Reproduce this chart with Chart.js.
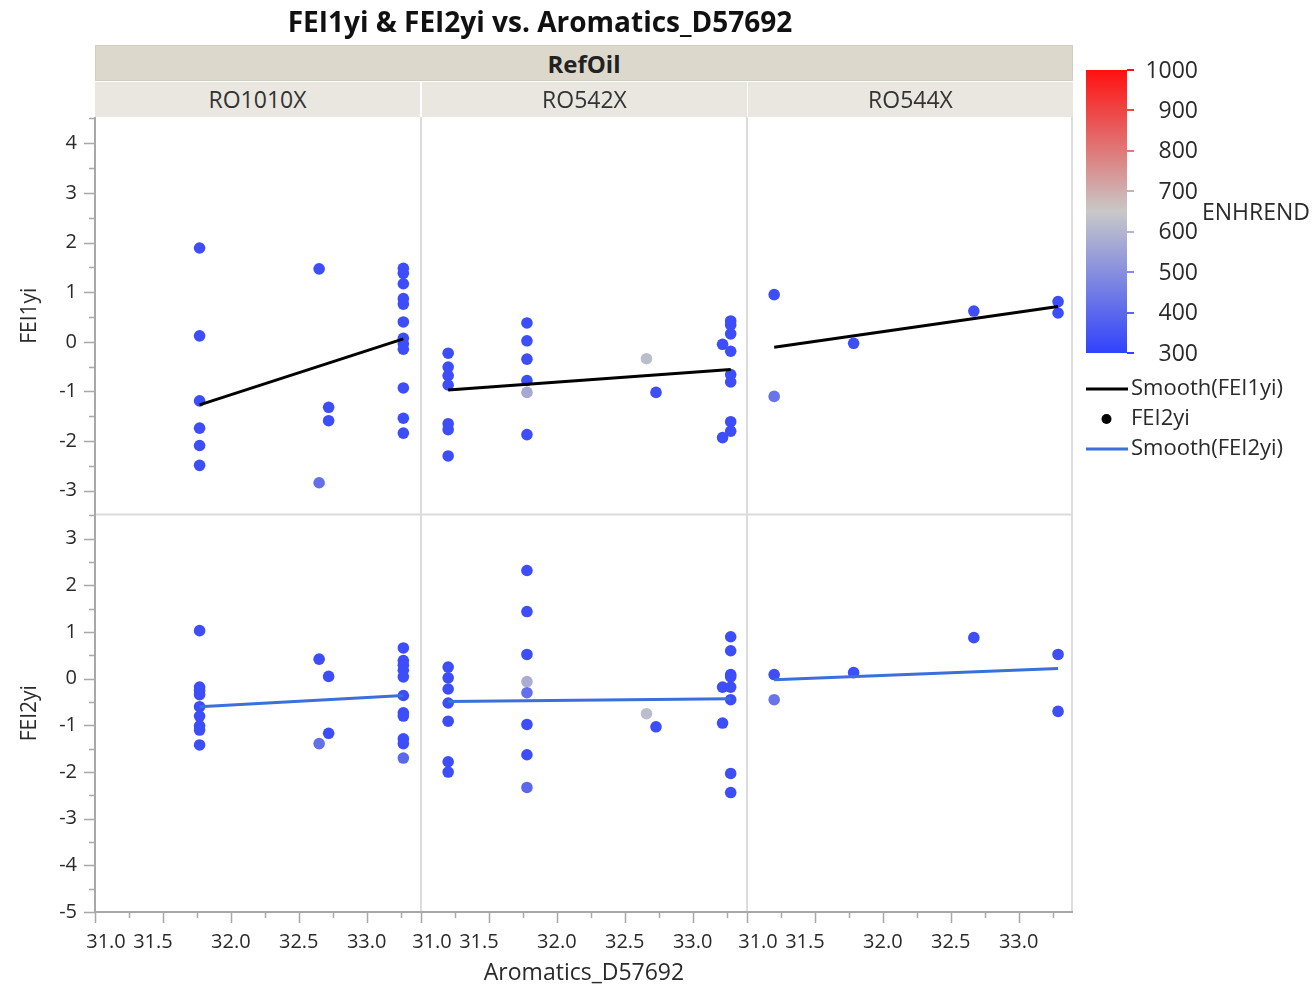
<!DOCTYPE html>
<html>
<head>
<meta charset="utf-8">
<title>FEI1yi & FEI2yi vs. Aromatics_D57692</title>
<script src="https://cdn.jsdelivr.net/npm/chart.js@4.4.1/dist/chart.umd.min.js"></script>
<style>
  body { margin: 0; background: #fff; font-family: "Open Sans", sans-serif; }
  #wrap { position: relative; width: 1316px; height: 988px; }
  #c { position: absolute; left: 0; top: 0; }
  .lbl { position: absolute; white-space: nowrap; color: #222; text-align: center; box-sizing: border-box; }
  #title { left: 0; width: 1080px; top: 2px; font-size: 28px; font-weight: bold; color: #111; }
  #refoil { left: 95px; top: 45px; width: 978px; height: 36px; line-height: 35px; background: #dcd9cc;
            font-size: 24px; font-weight: bold; border: 1px solid #d0cdc2; }
  .strip { top: 82px; width: 325px; height: 35px; line-height: 34px; background: #e9e7e0; font-size: 23px; color: #333; }
</style>
</head>
<body>
<div id="wrap">
  <canvas id="c" width="1316" height="988"></canvas>
  <div class="lbl" id="title">FEI1yi &amp; FEI2yi vs. Aromatics_D57692</div>
  <div class="lbl" id="refoil">RefOil</div>
  <div id="strips"></div>
</div>
<script>
// facets (RefOil) and the two responses
const refOils = ['RO1010X', 'RO542X', 'RO544X'];
const responses = ['FEI1yi', 'FEI2yi'];

// RO1010X
const aro1_RO1010X = [31.77, 31.77, 31.77, 31.77, 31.77, 31.77, 32.65, 32.65, 32.72, 32.72,
  33.27, 33.27, 33.27, 33.27, 33.27, 33.27, 33.27, 33.27, 33.27, 33.27, 33.27, 33.27];
const fei1_RO1010X = [1.89, 0.12, -1.19, -1.74, -2.09, -2.49, 1.47, -2.84, -1.32, -1.59,
  1.48, 1.38, 1.17, 0.87, 0.76, 0.40, 0.07, -0.04, -0.15, -0.93, -1.54, -1.84];
const enh1_RO1010X = [330, 330, 330, 330, 330, 330, 330, 420, 330, 330,
  330, 330, 330, 330, 330, 330, 330, 330, 330, 330, 330, 330];
const aro2_RO1010X = [31.77, 31.77, 31.77, 31.77, 31.77, 31.77, 31.77, 31.77, 31.77, 32.65, 32.65, 32.72, 32.72,
  33.27, 33.27, 33.27, 33.27, 33.27, 33.27, 33.27, 33.27, 33.27, 33.27, 33.27];
const fei2_RO1010X = [1.03, -0.18, -0.25, -0.34, -0.60, -0.80, -1.01, -1.10, -1.42, 0.42, -1.39, 0.05, -1.17,
  0.66, 0.39, 0.29, 0.18, 0.04, -0.36, -0.73, -0.80, -1.29, -1.39, -1.70];
const enh2_RO1010X = [330, 330, 330, 330, 330, 330, 330, 330, 330, 330, 420, 330, 330,
  330, 330, 330, 330, 330, 330, 330, 330, 330, 330, 400];

// RO542X
const aro1_RO542X = [31.20, 31.20, 31.20, 31.20, 31.20, 31.20, 31.20, 31.78, 31.78, 31.78, 31.78, 31.78, 31.78,
  32.66, 32.73, 33.22, 33.22, 33.28, 33.28, 33.28, 33.28, 33.28, 33.28, 33.28, 33.28];
const fei1_RO542X = [-0.23, -0.51, -0.68, -0.87, -1.65, -1.77, -2.30, 0.38, 0.02, -0.35, -0.78, -1.02, -1.87,
  -0.34, -1.02, -0.05, -1.93, 0.42, 0.34, 0.16, -0.19, -0.66, -0.81, -1.61, -1.80];
const enh1_RO542X = [330, 330, 330, 330, 330, 330, 330, 330, 330, 330, 330, 570, 330,
  620, 330, 330, 330, 330, 330, 330, 330, 330, 330, 330, 330];
const aro2_RO542X = [31.20, 31.20, 31.20, 31.20, 31.20, 31.20, 31.20, 31.78, 31.78, 31.78, 31.78, 31.78, 31.78, 31.78, 31.78,
  32.66, 32.73, 33.22, 33.22, 33.28, 33.28, 33.28, 33.28, 33.28, 33.28, 33.28, 33.28];
const fei2_RO542X = [0.25, 0.02, -0.22, -0.52, -0.91, -1.78, -2.00, 2.32, 1.44, 0.52, -0.06, -0.30, -0.98, -1.63, -2.33,
  -0.75, -1.03, -0.18, -0.95, 0.90, 0.60, 0.09, 0.04, -0.18, -0.45, -2.03, -2.44];
const enh2_RO542X = [330, 330, 330, 330, 330, 330, 330, 330, 330, 330, 580, 420, 330, 330, 400,
  620, 330, 330, 330, 330, 330, 330, 330, 330, 330, 330, 330];

// RO544X
const aro1_RO544X = [31.20, 31.20, 31.785, 32.67, 33.29, 33.29];
const fei1_RO544X = [0.95, -1.10, -0.03, 0.62, 0.81, 0.58];
const enh1_RO544X = [330, 430, 330, 330, 330, 330];
const aro2_RO544X = [31.20, 31.20, 31.785, 32.67, 33.29, 33.29];
const fei2_RO544X = [0.09, -0.45, 0.13, 0.88, 0.52, -0.70];
const enh2_RO544X = [330, 430, 330, 330, 330, 330];

// smoother fits, per oil
const smoothAro_RO1010X = [31.77, 33.27];
const smooth1_RO1010X = [-1.27, 0.06];
const smooth2_RO1010X = [-0.60, -0.36];
const smoothAro_RO542X = [31.20, 33.28];
const smooth1_RO542X = [-0.97, -0.56];
const smooth2_RO542X = [-0.49, -0.43];
const smoothAro_RO544X = [31.20, 33.29];
const smooth1_RO544X = [-0.11, 0.71];
const smooth2_RO544X = [-0.02, 0.22];

// axis settings
const aroRange = [31.0, 33.4];
const fei1Range = [-3.48, 4.53];
const fei2Range = [-5.0, 3.52];
const aroTickLabels = [31.0, 31.5, 32.0, 32.5, 33.0];

// ENHREND colour scale
const enhStops = [300, 650, 1000];
const enhRGB = [[48, 66, 252], [200, 200, 200], [255, 16, 16]];
const enhTicks = [300, 400, 500, 600, 700, 800, 900, 1000];

const FONT = '"Open Sans", sans-serif';
const TEXT = '#2a2a2a';

function enhColor(v) {
  let i = v <= enhStops[1] ? 0 : 1;
  let t = (v - enhStops[i]) / (enhStops[i + 1] - enhStops[i]);
  t = Math.max(0, Math.min(1, t));
  const c = enhRGB[i].map((a, k) => Math.round(a + (enhRGB[i + 1][k] - a) * t));
  return `rgb(${c[0]},${c[1]},${c[2]})`;
}

const byOil = {
  RO1010X: { aro1: aro1_RO1010X, fei1: fei1_RO1010X, enh1: enh1_RO1010X, aro2: aro2_RO1010X, fei2: fei2_RO1010X, enh2: enh2_RO1010X,
             sx: smoothAro_RO1010X, s1: smooth1_RO1010X, s2: smooth2_RO1010X },
  RO542X:  { aro1: aro1_RO542X, fei1: fei1_RO542X, enh1: enh1_RO542X, aro2: aro2_RO542X, fei2: fei2_RO542X, enh2: enh2_RO542X,
             sx: smoothAro_RO542X, s1: smooth1_RO542X, s2: smooth2_RO542X },
  RO544X:  { aro1: aro1_RO544X, fei1: fei1_RO544X, enh1: enh1_RO544X, aro2: aro2_RO544X, fei2: fei2_RO544X, enh2: enh2_RO544X,
             sx: smoothAro_RO544X, s1: smooth1_RO544X, s2: smooth2_RO544X },
};

const pts = (xs, ys) => xs.map((x, i) => ({ x: x, y: ys[i] }));

const datasets = [];
refOils.forEach(oil => {
  const d = byOil[oil];
  const xId = 'x_' + oil;
  datasets.push({ label: 'Smooth(FEI1yi)', data: pts(d.sx, d.s1), xAxisID: xId, yAxisID: 'yFEI1', showLine: true,
    borderColor: '#000', borderWidth: 3, pointRadius: 0, order: 0 });
  datasets.push({ label: 'Smooth(FEI2yi)', data: pts(d.sx, d.s2), xAxisID: xId, yAxisID: 'yFEI2', showLine: true,
    borderColor: '#3b6fdc', borderWidth: 3, pointRadius: 0, order: 0 });
  datasets.push({ label: 'FEI1yi', data: pts(d.aro1, d.fei1), xAxisID: xId, yAxisID: 'yFEI1',
    pointRadius: 5.8, pointBorderWidth: 0, pointBackgroundColor: d.enh1.map(enhColor), order: 1 });
  datasets.push({ label: 'FEI2yi', data: pts(d.aro2, d.fei2), xAxisID: xId, yAxisID: 'yFEI2',
    pointRadius: 5.8, pointBorderWidth: 0, pointBackgroundColor: d.enh2.map(enhColor), order: 1 });
});

const scales = {};
refOils.forEach(oil => {
  scales['x_' + oil] = {
    type: 'linear', position: 'bottom', stack: 'cols', stackWeight: 1,
    min: aroRange[0], max: aroRange[1],
    ticks: { display: false }, grid: { display: false }, border: { display: false },
    afterFit: s => { s.height = 40; }
  };
});
function yAxis(range, weight) {
  return {
    type: 'linear', position: 'left', stack: 'rows', stackWeight: 1, weight: weight,
    min: range[0], max: range[1],
    grid: { display: false, drawTicks: false }, border: { display: false },
    ticks: { stepSize: 0.5, autoSkip: false, includeBounds: false, padding: 18,
             color: TEXT, font: { family: FONT, size: 20 },
             callback: v => Number.isInteger(v) ? String(v) : '' },
    afterFit: s => { s.width = 95; }
  };
}
scales.yFEI1 = yAxis(fei1Range, 2);
scales.yFEI2 = yAxis(fei2Range, 1);

// frame, ticks, titles and the ENHREND legend
const facetFrame = {
  id: 'facetFrame',
  beforeDatasetsDraw(chart) {
    const { ctx, chartArea: a, scales: sc } = chart;
    ctx.save();
    ctx.strokeStyle = '#dcdcdc';
    ctx.lineWidth = 2;
    ctx.beginPath();
    refOils.slice(1).forEach(oil => {
      const x = sc['x_' + oil].left;
      ctx.moveTo(x, a.top); ctx.lineTo(x, a.bottom);
    });
    ctx.moveTo(a.left, sc.yFEI2.top); ctx.lineTo(a.right, sc.yFEI2.top);
    ctx.moveTo(a.right - 1, a.top); ctx.lineTo(a.right - 1, a.bottom);
    ctx.stroke();
    ctx.restore();
  },
  afterDraw(chart) {
    const { ctx, chartArea: a, scales: sc } = chart;
    ctx.save();
    // axis lines
    ctx.strokeStyle = '#a8a8a8';
    ctx.lineWidth = 2;
    ctx.beginPath();
    ctx.moveTo(a.left, a.top); ctx.lineTo(a.left, a.bottom + 1);
    ctx.moveTo(a.left, a.bottom); ctx.lineTo(a.right, a.bottom);
    ctx.stroke();

    // x ticks and labels
    ctx.lineWidth = 1.5;
    ctx.fillStyle = TEXT;
    ctx.font = '20px ' + FONT;
    ctx.textAlign = 'center';
    ctx.textBaseline = 'middle';
    const labelShift = { '31.0': 11, '31.5': -10 };
    refOils.forEach(oil => {
      const s = sc['x_' + oil];
      ctx.beginPath();
      for (let v = s.min; v <= s.max + 1e-9; v += 0.25) {
        const x = Math.round(s.getPixelForValue(v)) + 0.5;
        const major = Math.abs(v * 2 - Math.round(v * 2)) < 1e-6;
        ctx.moveTo(x, a.bottom); ctx.lineTo(x, a.bottom + (major ? 11 : 6));
      }
      ctx.stroke();
      aroTickLabels.forEach(v => {
        const txt = v.toFixed(1);
        ctx.fillText(txt, s.getPixelForValue(v) + (labelShift[txt] || 0), a.bottom + 30);
      });
    });

    // y ticks
    ['yFEI1', 'yFEI2'].forEach(id => {
      const s = sc[id];
      ctx.beginPath();
      for (let v = Math.ceil(s.min * 2) / 2; v <= s.max + 1e-9; v += 0.5) {
        const y = Math.round(s.getPixelForValue(v)) + 0.5;
        ctx.moveTo(a.left, y); ctx.lineTo(a.left - (Number.isInteger(v) ? 11 : 6), y);
      }
      ctx.stroke();
    });

    // axis titles
    ctx.font = '21px ' + FONT;
    ['yFEI1', 'yFEI2'].forEach((id, i) => {
      const s = sc[id];
      ctx.save();
      ctx.translate(30, (s.top + s.bottom) / 2);
      ctx.rotate(-Math.PI / 2);
      ctx.fillText(responses[i], 0, 0);
      ctx.restore();
    });
    ctx.font = '23px ' + FONT;
    ctx.fillText('Aromatics_D57692', (a.left + a.right) / 2, a.bottom + 61);

    // ENHREND colour bar
    const bL = a.right + 13, bR = bL + 41, bT = 70, bB = 353;
    const g = ctx.createLinearGradient(0, bB, 0, bT);
    enhStops.forEach((v, i) => g.addColorStop((v - enhStops[0]) / (enhStops[2] - enhStops[0]), enhColor(v)));
    ctx.fillStyle = g;
    ctx.fillRect(bL, bT, bR - bL, bB - bT);
    const yOf = v => bB - (v - enhStops[0]) / (enhStops[2] - enhStops[0]) * (bB - bT);
    ctx.lineWidth = 2;
    enhTicks.forEach(v => {
      ctx.strokeStyle = enhColor(v);
      ctx.beginPath();
      ctx.moveTo(bR, Math.round(yOf(v))); ctx.lineTo(bR + 7, Math.round(yOf(v)));
      ctx.stroke();
    });
    ctx.fillStyle = TEXT;
    ctx.font = '23px ' + FONT;
    ctx.textAlign = 'right';
    enhTicks.forEach(v => ctx.fillText(String(v), bR + 71, yOf(v) + 1));
    ctx.textAlign = 'left';
    ctx.fillText('ENHREND', bR + 75, 213);

    // line / marker legend
    ctx.font = '22px ' + FONT;
    const items = [
      { label: 'Smooth(FEI1yi)', kind: 'line', color: '#000', y: 389 },
      { label: 'FEI2yi', kind: 'dot', color: '#000', y: 419 },
      { label: 'Smooth(FEI2yi)', kind: 'line', color: '#3b6fdc', y: 449 },
    ];
    items.forEach(it => {
      if (it.kind === 'line') {
        ctx.strokeStyle = it.color; ctx.lineWidth = 3;
        ctx.beginPath(); ctx.moveTo(bL, it.y); ctx.lineTo(bR + 1, it.y); ctx.stroke();
      } else {
        ctx.fillStyle = it.color;
        ctx.beginPath(); ctx.arc((bL + bR) / 2, it.y, 5, 0, Math.PI * 2); ctx.fill();
      }
      ctx.fillStyle = TEXT;
      ctx.fillText(it.label, bR + 4, it.y);
    });
    ctx.restore();
  }
};

new Chart(document.getElementById('c'), {
  type: 'scatter',
  data: { datasets: datasets },
  options: {
    responsive: false,
    animation: false,
    layout: { padding: { top: 117, left: 0, right: 243, bottom: 36 } },
    plugins: { legend: { display: false }, tooltip: { enabled: false } },
    scales: scales
  },
  plugins: [facetFrame]
});

// strip labels for each RefOil column
const strips = document.getElementById('strips');
refOils.forEach((oil, i) => {
  const d = document.createElement('div');
  d.className = 'lbl strip';
  d.style.left = (95 + i * 326 + (i ? 1 : 0)) + 'px';
  d.textContent = oil;
  strips.appendChild(d);
});
</script>
</body>
</html>
